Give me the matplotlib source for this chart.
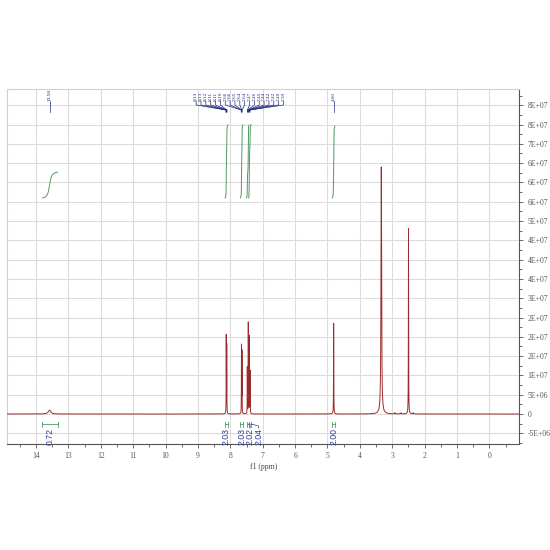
import numpy as np
import matplotlib
matplotlib.use('Agg')
from matplotlib import pyplot as plt
from matplotlib.ticker import MultipleLocator, FuncFormatter

plt.rcParams['font.family'] = ['Liberation Serif', 'DejaVu Serif']

# spectrum lines: shift (ppm), height, half width (ppm)
peak_ppm = [13.58, 8.125, 8.110, 7.655, 7.640, 7.475, 7.445, 7.415, 7.390,
            4.81, 3.34, 2.92, 2.73, 2.50, 2.35]
peak_height = [1.0e6, 2.0e7, 1.75e7, 1.75e7, 1.6e7, 1.2e7, 2.35e7, 2.0e7, 1.1e7,
               2.35e7, 6.4e7, 3e5, 3e5, 4.8e7, 3e5]
peak_hw = [0.045, 0.003, 0.003, 0.003, 0.003, 0.003, 0.003, 0.003, 0.003,
           0.004, 0.011, 0.01, 0.01, 0.004, 0.01]

# peak picking labels
picks = [13.58, 8.132, 8.127, 8.121, 8.113, 8.108, 8.102,
         7.662, 7.657, 7.650, 7.643, 7.637, 7.472, 7.463, 7.451, 7.444,
         7.423, 7.416, 7.402, 7.394, 4.81]

# integrals: region (from, to) and value
int_from = [13.80, 8.16, 7.69, 7.50, 7.43, 4.85]
int_to = [13.33, 8.07, 7.61, 7.43, 7.36, 4.77]
int_value = [0.72, 2.03, 2.03, 2.02, 2.04, 2.00]

PX = 32.4  # pixels per ppm
NAVY = '#1f2a80'
GREEN = '#4f9a63'
BLUE = '#2f3d97'


def frac(p):
    # vertical pixel of the picture -> axes fraction
    return (444 - p) / 355


def spread(xs, gap):
    clusters = [[x] for x in xs]
    changed = True
    while changed:
        changed = False
        merged = [clusters[0]]
        for c in clusters[1:]:
            prev = merged[-1]
            prev_end = np.mean(prev) + (len(prev) - 1) * gap / 2
            cur_start = np.mean(c) - (len(c) - 1) * gap / 2
            if cur_start - prev_end < gap:
                merged[-1] = prev + c
                changed = True
            else:
                merged.append(c)
        clusters = merged
    out = []
    for c in clusters:
        n = len(c)
        out += list(np.mean(c) + (np.arange(n) - (n - 1) / 2) * gap)
    return out


x = np.arange(15.0, -1.0, -0.0005)
y = np.zeros_like(x)
for p0, h, w in zip(peak_ppm, peak_height, peak_hw):
    y += h / (1 + ((x - p0) / w) ** 2)

fig = plt.figure(figsize=(5.5, 5.5), dpi=100)
ax = fig.add_axes([7.3 / 550, 1 - 444 / 550, 512 / 550, 355 / 550])

ax.plot(x, y, color='#9c2b2b', lw=0.7, zorder=3)

ax.set_xlim(14.883, -0.92)
ax.set_ylim(-7.77e6, 8.42e7)

ax.xaxis.set_major_locator(MultipleLocator(1))
ax.xaxis.set_minor_locator(MultipleLocator(0.5))
ax.yaxis.set_major_locator(MultipleLocator(5e6))
ax.yaxis.set_minor_locator(MultipleLocator(2.5e6))
ax.yaxis.tick_right()
ax.yaxis.set_major_formatter(FuncFormatter(lambda v, pos: '0' if abs(v) < 1 else '%.0E' % v))
ax.grid(True, which='major', color='#dcdcdc', lw=0.8)
ax.set_axisbelow(True)

ax.tick_params(which='both', direction='out', colors='#555555', width=0.6)
ax.tick_params(which='major', length=3, labelsize=5.5, pad=3)
ax.tick_params(which='minor', length=2)
for side in ['top', 'left']:
    ax.spines[side].set_color('#d0d0d0')
    ax.spines[side].set_linewidth(0.8)
for side in ['bottom', 'right']:
    ax.spines[side].set_color('#555555')
    ax.spines[side].set_linewidth(0.8)
ax.set_xlabel('f1 (ppm)', fontsize=5.5, color='#444444', labelpad=2)

tr = ax.get_xaxis_transform()

# peak labels on top
order = sorted(picks, reverse=True)
lab_pos = [-u for u in spread([-p for p in order], 4.85 / PX)]
for p, lx in zip(order, lab_pos):
    ax.text(lx, frac(101), '%.2f' % p, rotation=90, ha='center', va='bottom',
            fontsize=3.8, color=NAVY, transform=tr)
    ax.plot([lx, lx, p, p], [frac(101), frac(105), frac(110), frac(112)],
            color=NAVY, lw=0.5, transform=tr, clip_on=False)

# integral curves and labels
base = frac(198)
scale = (frac(126) - frac(198)) / 2.0
lab_x = []
for a, b, v in zip(int_from, int_to, int_value):
    m = (x <= a) & (x >= b)
    cum = np.cumsum(y[m])
    cum = (cum - cum[0]) / (cum[-1] - cum[0])
    ax.plot(x[m], base + cum * v * scale, color=GREEN, lw=0.7, transform=tr)
    ax.plot([a, b], [frac(424), frac(424)], color=GREEN, lw=0.6, transform=tr)
    for e in (a, b):
        ax.plot([e, e], [frac(421.5), frac(426.5)], color=GREEN, lw=0.6, transform=tr)
    c = (a + b) / 2
    if lab_x and lab_x[-1] - c < 8.5 / PX:
        lx = lab_x[-1] - 8.5 / PX
        ax.plot([b, lx, lx], [frac(424), frac(426), frac(428)], color=BLUE, lw=0.5, transform=tr)
    else:
        lx = c
    lab_x.append(lx)
    ax.text(lx, frac(428), '%.2f' % v, rotation=90, ha='center', va='top',
            fontsize=6.3, color=BLUE, family='Liberation Sans', transform=tr)

fig.savefig('out.png', dpi=100, facecolor='white')
